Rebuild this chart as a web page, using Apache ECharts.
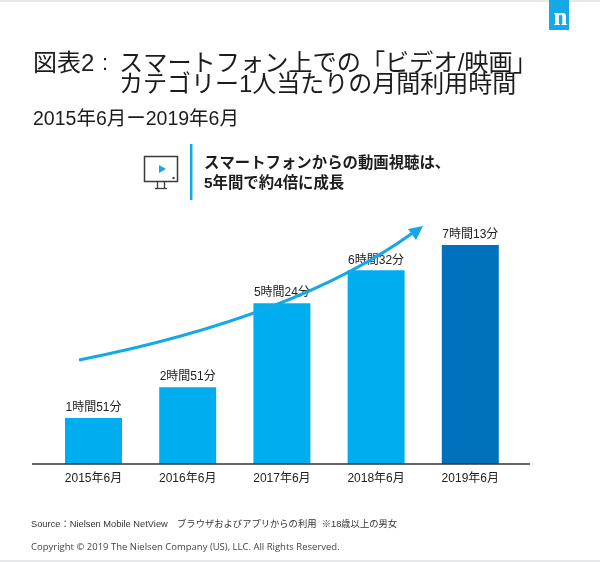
<!DOCTYPE html>
<html><head><meta charset="utf-8">
<style>html,body{margin:0;padding:0;background:#fff}#c{width:600px;height:562px}</style>
<script src="https://cdn.jsdelivr.net/npm/echarts@6/dist/echarts.min.js"></script>
</head><body><div id="c"></div>
<script>
const categories = ['2015年6月','2016年6月','2017年6月','2018年6月','2019年6月'];
// Bar heights as drawn in the picture (minute-equivalents; the printed labels are listed separately)
const barValues = [91, 152, 318, 383, 433];
const barLabels = ['1時間51分','2時間51分','5時間24分','6時間32分','7時間13分'];
const barColors = ['#00aeef','#00aeef','#00aeef','#00aeef','#0071bc'];

const F = '"Liberation Sans","Noto Sans CJK JP",sans-serif';
const BLUE = '#14a9e6';
const txt = (x, y, text, size, extra) => ({type:'text', x, y, silent:true,
  style:Object.assign({text, fontFamily:F, fontSize:size, fill:'#1c1c1c', textVerticalAlign:'middle'}, extra||{})});

const chart = echarts.init(document.getElementById('c'), null, {renderer:'canvas'});
chart.setOption({
  animation:false,
  backgroundColor:'#fff',
  grid:{left:46.4, width:471, top:200, bottom:98},
  xAxis:{type:'category', data:categories, axisLine:{show:false}, axisTick:{show:false},
    axisLabel:{margin:9, fontFamily:F, fontSize:12, color:'#222', interval:0}},
  yAxis:{type:'value', min:0, max:522, show:false},
  series:[{type:'bar', barWidth:57, z:2,
    data:barValues.map((v,i)=>({value:v, itemStyle:{color:barColors[i]},
      label:{show:true, position:'top', distance:4, formatter:barLabels[i], fontFamily:F, fontSize:12, color:'#222'}}))}],
  graphic:{elements:[
    {type:'rect', shape:{x:0,y:0,width:600,height:2}, style:{fill:'#e6e9eb'}, silent:true},
    {type:'rect', shape:{x:0,y:560,width:600,height:2}, style:{fill:'#e6e9eb'}, silent:true},
    {type:'rect', shape:{x:549,y:0,width:20,height:30}, style:{fill:BLUE}, silent:true},
    txt(553.5, 19, 'n', 25, {fill:'#fff', fontFamily:'"Liberation Serif",serif', fontWeight:'bold'}),

    txt(33, 64, '図表2', 24),
    txt(102, 64, ':', 22),
    txt(119, 64, 'スマートフォン上での「ビデオ/映画」', 24.2),
    txt(119, 85, 'カテゴリー1人当たりの月間利用時間', 24),
    txt(33, 120, '2015年6月ー2019年6月', 19.5),

    {type:'rect', shape:{x:190,y:144,width:2.5,height:56}, style:{fill:BLUE}, silent:true},
    txt(204, 163.5, 'スマートフォンからの動画視聴は、', 15.4, {fontWeight:'bold'}),
    txt(204, 183.5, '5年間で約4倍に成長', 15.4, {fontWeight:'bold'}),

    {type:'rect', shape:{x:144.5,y:156.5,width:33,height:25}, style:{fill:'#fff', stroke:'#3a3a3a', lineWidth:1.5}, silent:true},
    {type:'polygon', shape:{points:[[159,165],[159,173],[166,169]]}, style:{fill:BLUE}, silent:true},
    {type:'rect', shape:{x:172.5,y:177,width:2,height:2}, style:{fill:'#333'}, silent:true},
    {type:'line', shape:{x1:157.5,y1:182,x2:157.5,y2:188}, style:{stroke:'#3a3a3a', lineWidth:1.3}, silent:true},
    {type:'line', shape:{x1:164.5,y1:182,x2:164.5,y2:188}, style:{stroke:'#3a3a3a', lineWidth:1.3}, silent:true},
    {type:'line', shape:{x1:155,y1:188.5,x2:167,y2:188.5}, style:{stroke:'#3a3a3a', lineWidth:1.3}, silent:true},

    {type:'line', z:5, shape:{x1:32,y1:464,x2:530,y2:464}, style:{stroke:'#333', lineWidth:1.5}, silent:true},

    {type:'bezierCurve', z:6, shape:{x1:79,y1:360,cpx1:190,cpy1:338,cpx2:320,cpy2:300,x2:414,y2:232},
      style:{stroke:BLUE, lineWidth:3, fill:'none'}, silent:true},
    {type:'polygon', z:6, shape:{points:[[423,226],[408,229],[416,240]]}, style:{fill:BLUE}, silent:true},

    txt(31, 524, 'Source：Nielsen Mobile NetView　ブラウザおよびアプリからの利用  ※18歳以上の男女', 9.3, {fill:'#333'}),
    txt(31, 547.5, 'Copyright © 2019 The Nielsen Company (US), LLC. All Rights Reserved.', 9.5, {fill:'#444', fontFamily:'"Open Sans",sans-serif'})
  ]}
});
</script></body></html>
